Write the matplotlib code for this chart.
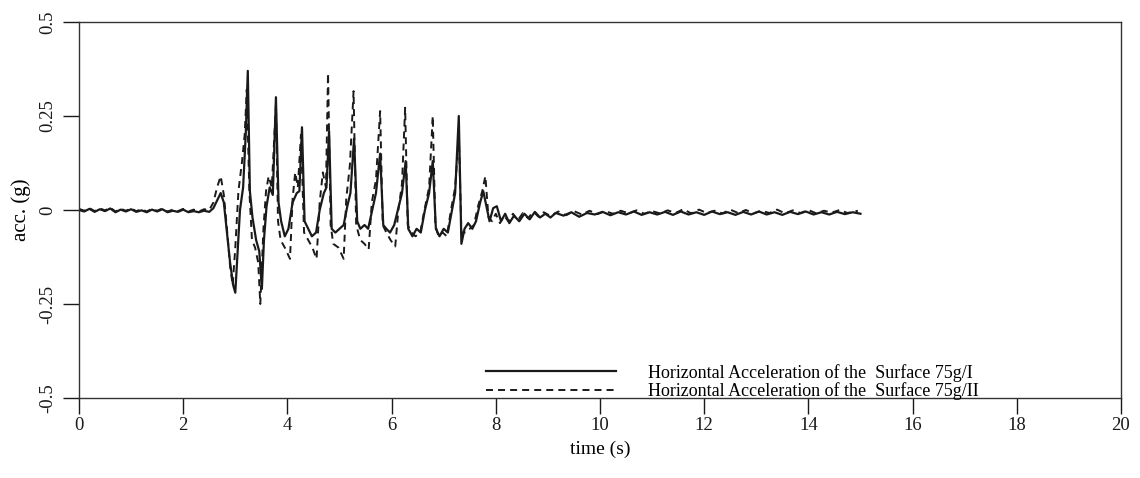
import matplotlib
matplotlib.use('Agg')
import matplotlib.pyplot as plt

# surface acceleration, test 75g/I (solid)
t1 = [0.0, 0.1, 0.2, 0.3, 0.4, 0.5, 0.6, 0.7, 0.8, 0.9, 1.0, 1.1, 1.2, 1.3, 1.4, 1.5,
      1.6, 1.7, 1.8, 1.9, 2.0, 2.1, 2.2, 2.3, 2.4, 2.5, 2.58, 2.65, 2.72, 2.78, 2.84, 2.9,
      2.96, 3.0, 3.04, 3.09, 3.15, 3.2, 3.24, 3.28, 3.33, 3.4, 3.46, 3.51, 3.55, 3.6,
      3.66, 3.72, 3.78, 3.83, 3.88, 3.95, 4.02, 4.1, 4.18, 4.23, 4.28, 4.33, 4.4, 4.47,
      4.55, 4.62, 4.7, 4.75, 4.8, 4.85, 4.92, 5.0, 5.08, 5.15, 5.21, 5.28, 5.34, 5.4,
      5.48, 5.55, 5.63, 5.7, 5.78, 5.84, 5.9, 5.97, 6.05, 6.12, 6.2, 6.27, 6.32, 6.4,
      6.48, 6.56, 6.64, 6.72, 6.79, 6.85, 6.92, 7.0, 7.08, 7.16, 7.22, 7.29, 7.34, 7.4,
      7.47, 7.55, 7.62, 7.7, 7.76, 7.82, 7.88, 7.95, 8.02, 8.1, 8.18, 8.26, 8.35, 8.45,
      8.55, 8.65, 8.75, 8.85, 8.95, 9.05, 9.15, 9.3, 9.45, 9.6, 9.75, 9.9, 10.05, 10.2,
      10.35, 10.5, 10.65, 10.8, 10.95, 11.1, 11.25, 11.4, 11.55, 11.7, 11.85, 12.0,
      12.15, 12.3, 12.45, 12.6, 12.75, 12.9, 13.05, 13.2, 13.35, 13.5, 13.65, 13.8,
      13.95, 14.1, 14.25, 14.4, 14.55, 14.7, 14.85, 15.0]
acc1 = [0.0, -0.004, 0.003, -0.005, 0.002, -0.003, 0.004, -0.006, 0.001, -0.004, 0.002,
        -0.005, -0.001, -0.006, 0.001, -0.004, 0.002, -0.006, -0.002, -0.005, 0.001,
        -0.006, -0.003, -0.006, -0.002, -0.005, 0.005, 0.025, 0.045, 0.02, -0.06, -0.14,
        -0.2, -0.22, -0.12, 0.0, 0.06, 0.2, 0.37, 0.05, -0.02, -0.08, -0.11, -0.21,
        -0.08, 0.01, 0.06, 0.04, 0.3, 0.02, -0.03, -0.07, -0.05, 0.02, 0.045, 0.05, 0.22,
        -0.03, -0.05, -0.07, -0.06, 0.0, 0.045, 0.06, 0.21, -0.05, -0.06, -0.05, -0.04,
        0.01, 0.045, 0.19, -0.03, -0.05, -0.04, -0.05, 0.0, 0.045, 0.15, -0.04, -0.05,
        -0.06, -0.04, 0.0, 0.045, 0.13, -0.05, -0.07, -0.05, -0.06, 0.0, 0.045, 0.13,
        -0.05, -0.07, -0.05, -0.06, 0.0, 0.045, 0.25, -0.09, -0.05, -0.035, -0.05, -0.03,
        0.02, 0.05, 0.01, -0.03, 0.005, 0.01, -0.03, -0.01, -0.035, -0.015, -0.03, -0.01,
        -0.025, -0.005, -0.02, -0.01, -0.02, -0.008, -0.015, -0.006, -0.018, -0.008,
        -0.012, -0.005, -0.014, -0.006, -0.012, -0.004, -0.013, -0.006, -0.012, -0.005,
        -0.013, -0.004, -0.012, -0.006, -0.013, -0.004, -0.011, -0.006, -0.013, -0.005,
        -0.012, -0.004, -0.012, -0.006, -0.013, -0.005, -0.011, -0.004, -0.012, -0.006,
        -0.012, -0.005, -0.011, -0.006, -0.01]

# surface acceleration, test 75g/II (dashed)
t2 = [0.0, 0.1, 0.2, 0.3, 0.4, 0.5, 0.6, 0.7, 0.8, 0.9, 1.0, 1.1, 1.2, 1.3, 1.4, 1.5,
      1.6, 1.7, 1.8, 1.9, 2.0, 2.1, 2.2, 2.3, 2.4, 2.5, 2.58, 2.65, 2.72, 2.78, 2.84, 2.9,
      2.95, 3.0, 3.06, 3.13, 3.18, 3.22, 3.27, 3.32, 3.38, 3.44, 3.48, 3.54, 3.59, 3.64,
      3.7, 3.78, 3.82, 3.87, 3.95, 4.05, 4.1, 4.15, 4.2, 4.26, 4.32, 4.4, 4.48, 4.56,
      4.62, 4.68, 4.74, 4.78, 4.83, 4.88, 4.98, 5.08, 5.13, 5.2, 5.27, 5.32, 5.4, 5.48,
      5.56, 5.62, 5.7, 5.78, 5.83, 5.9, 5.98, 6.07, 6.13, 6.2, 6.26, 6.31, 6.38, 6.46,
      6.55, 6.63, 6.72, 6.79, 6.84, 6.9, 6.98, 7.06, 7.14, 7.22, 7.29, 7.34, 7.42, 7.5,
      7.58, 7.66, 7.74, 7.8, 7.86, 7.93, 8.0, 8.08, 8.16, 8.24, 8.33, 8.42, 8.52, 8.62,
      8.72, 8.82, 8.92, 9.05, 9.2, 9.35, 9.5, 9.65, 9.8, 9.95, 10.1, 10.25, 10.4, 10.55,
      10.7, 10.85, 11.0, 11.15, 11.3, 11.45, 11.6, 11.75, 11.9, 12.05, 12.2, 12.35, 12.5,
      12.65, 12.8, 12.95, 13.1, 13.25, 13.4, 13.55, 13.7, 13.85, 14.0, 14.15, 14.3,
      14.45, 14.6, 14.75, 14.95]
acc2 = [0.003, -0.002, 0.005, -0.003, 0.004, -0.001, 0.006, -0.004, 0.003, -0.002,
        0.004, -0.003, 0.002, -0.004, 0.003, -0.002, 0.004, -0.004, 0.001, -0.003, 0.003,
        -0.004, 0.001, -0.004, 0.002, 0.0, 0.02, 0.06, 0.09, 0.04, -0.05, -0.15, -0.2,
        -0.1, 0.05, 0.13, 0.2, 0.32, 0.05, -0.08, -0.1, -0.14, -0.25, -0.05, 0.05, 0.09,
        0.06, 0.28, -0.03, -0.08, -0.1, -0.13, 0.03, 0.1, 0.06, 0.2, -0.06, -0.08, -0.1,
        -0.13, 0.02, 0.1, 0.06, 0.364, -0.04, -0.09, -0.1, -0.13, 0.03, 0.12, 0.316,
        -0.04, -0.08, -0.09, -0.105, 0.02, 0.08, 0.263, -0.04, -0.06, -0.08, -0.097, 0.0,
        0.07, 0.272, -0.04, -0.06, -0.07, -0.06, 0.0, 0.06, 0.25, -0.04, -0.07, -0.06,
        -0.07, 0.0, 0.06, 0.2, -0.06, -0.06, -0.05, -0.04, 0.01, 0.05, 0.09, -0.02, -0.03,
        -0.01, -0.035, -0.015, -0.03, -0.01, -0.028, -0.008, -0.022, -0.004, -0.018,
        -0.006, -0.016, -0.004, -0.014, -0.003, -0.012, -0.002, -0.011, -0.003, -0.01,
        -0.002, -0.009, -0.001, -0.01, -0.003, -0.009, -0.001, -0.008, 0.002, -0.009,
        0.001, -0.008, -0.002, -0.009, 0.001, -0.008, 0.0, -0.009, -0.002, -0.008, 0.001,
        -0.009, -0.001, -0.008, 0.0, -0.009, -0.002, -0.007, 0.0, -0.008, -0.002]

xticks = [0, 2, 4, 6, 8, 10, 12, 14, 16, 18, 20]
yticks = [-0.5, -0.25, 0, 0.25, 0.5]
ytick_labels = ['-0.5', '-0.25', '0', '0.25', '0.5']

plt.rcParams['font.family'] = ['Liberation Serif', 'DejaVu Serif']

fig = plt.figure(figsize=(11.4, 4.78), dpi=100)
ax = fig.add_axes([0.0693, 0.1674, 0.9140, 0.7866])

ax.plot(t1, acc1, color='#1a1a1a', lw=1.6, label='Horizontal Acceleration of the  Surface 75g/I')
ax.plot(t2, acc2, color='#1a1a1a', lw=1.4, ls=(0, (3.6, 2.6)),
        label='Horizontal Acceleration of the  Surface 75g/II')

ax.set_xlim(0, 20)
ax.set_ylim(-0.5, 0.5)
ax.set_xticks(xticks)
ax.set_xticklabels([str(v) for v in xticks])
ax.set_yticks(yticks)
ax.set_yticklabels(ytick_labels, rotation=90, va='center')
ax.tick_params(direction='out', length=11.5, width=1, labelsize=13.5, colors='#1a1a1a')
ax.tick_params(axis='x', pad=2)
ax.tick_params(axis='y', pad=5)
for sp in ax.spines.values():
    sp.set_linewidth(1)
    sp.set_color('#333333')

ax.set_xlabel('time (s)', fontsize=14, labelpad=5)
ax.set_ylabel('acc. (g)', fontsize=15, labelpad=6)

leg = ax.legend(loc='center left', bbox_to_anchor=(0.3906, 0.043), frameon=False,
                fontsize=13.0, handlelength=7.2, handletextpad=1.8, labelspacing=0.02,
                borderpad=0, borderaxespad=0)

fig.savefig('out.png', dpi=100)
